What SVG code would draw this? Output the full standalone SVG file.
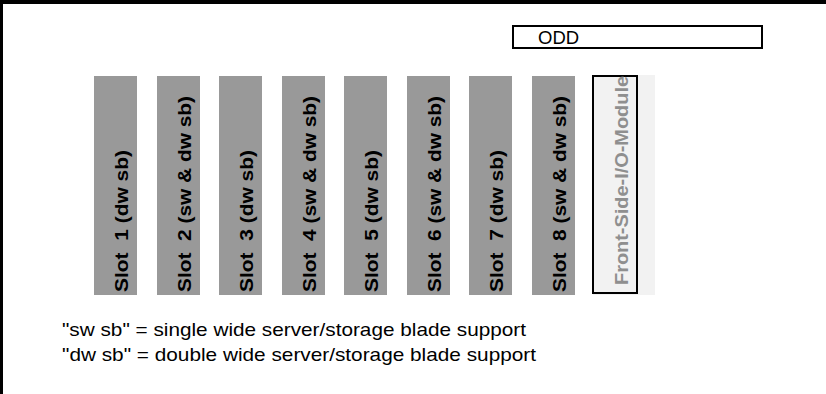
<svg xmlns="http://www.w3.org/2000/svg" width="826" height="394" viewBox="0 0 826 394">
<style>
.frame{fill:#000}
.slot{fill:#999999}
.slotlbl{font-family:"Liberation Sans",Arial,sans-serif;font-weight:bold;font-size:18px;fill:#000;white-space:pre}
.fsbg{fill:#f2f2f2}
.fsbox{fill:none;stroke:#000;stroke-width:2}
.fslbl{font-family:"Liberation Sans",Arial,sans-serif;font-weight:bold;font-size:18px;fill:#8f8f8f}
.odd{fill:#fff;stroke:#000;stroke-width:2}
.oddlbl{font-family:"Liberation Sans",Arial,sans-serif;font-size:18.5px;fill:#000}
.note{font-family:"Liberation Sans",Arial,sans-serif;font-size:19px;fill:#000}
</style>
<rect width="826" height="394" fill="#fff"/>
<g id="frame">
<rect class="frame" x="0" y="0" width="826" height="4"/>
<rect class="frame" x="0" y="0" width="3" height="394"/>
</g>
<g id="odd">
<rect class="odd" x="513" y="26" width="249" height="22"/>
<text class="oddlbl" x="538" y="44">ODD</text>
</g>
<g id="slot1"><rect class="slot" x="94" y="76" width="43" height="219"/><text class="slotlbl" xml:space="preserve" transform="translate(128,292) rotate(-90)" textLength="142" lengthAdjust="spacingAndGlyphs">Slot  1 (dw sb)</text></g>
<g id="slot2"><rect class="slot" x="157" y="76" width="43" height="219"/><text class="slotlbl" xml:space="preserve" transform="translate(191,292) rotate(-90)" textLength="196" lengthAdjust="spacingAndGlyphs">Slot  2 (sw &amp; dw sb)</text></g>
<g id="slot3"><rect class="slot" x="219" y="76" width="43" height="219"/><text class="slotlbl" xml:space="preserve" transform="translate(253,292) rotate(-90)" textLength="142" lengthAdjust="spacingAndGlyphs">Slot  3 (dw sb)</text></g>
<g id="slot4"><rect class="slot" x="282" y="76" width="43" height="219"/><text class="slotlbl" xml:space="preserve" transform="translate(316,292) rotate(-90)" textLength="196" lengthAdjust="spacingAndGlyphs">Slot  4 (sw &amp; dw sb)</text></g>
<g id="slot5"><rect class="slot" x="344" y="76" width="43" height="219"/><text class="slotlbl" xml:space="preserve" transform="translate(378,292) rotate(-90)" textLength="142" lengthAdjust="spacingAndGlyphs">Slot  5 (dw sb)</text></g>
<g id="slot6"><rect class="slot" x="407" y="76" width="43" height="219"/><text class="slotlbl" xml:space="preserve" transform="translate(441,292) rotate(-90)" textLength="196" lengthAdjust="spacingAndGlyphs">Slot  6 (sw &amp; dw sb)</text></g>
<g id="slot7"><rect class="slot" x="469" y="76" width="43" height="219"/><text class="slotlbl" xml:space="preserve" transform="translate(503,292) rotate(-90)" textLength="142" lengthAdjust="spacingAndGlyphs">Slot  7 (dw sb)</text></g>
<g id="slot8"><rect class="slot" x="532" y="76" width="43" height="219"/><text class="slotlbl" xml:space="preserve" transform="translate(566,292) rotate(-90)" textLength="196" lengthAdjust="spacingAndGlyphs">Slot  8 (sw &amp; dw sb)</text></g>
<g id="frontio">
<rect class="fsbg" x="593" y="75" width="62" height="220"/>
<rect class="fsbox" x="593" y="76" width="44" height="217"/>
<text class="fslbl" transform="translate(628,285) rotate(-90)" textLength="209" lengthAdjust="spacingAndGlyphs">Front-Side-I/O-Module</text>
</g>
<g id="legend">
<text class="note" x="62" y="336" textLength="464" lengthAdjust="spacingAndGlyphs">"sw sb" = single wide server/storage blade support</text>
<text class="note" x="62" y="361" textLength="474" lengthAdjust="spacingAndGlyphs">"dw sb" = double wide server/storage blade support</text>
</g>
<g id="connectors"></g>
</svg>
